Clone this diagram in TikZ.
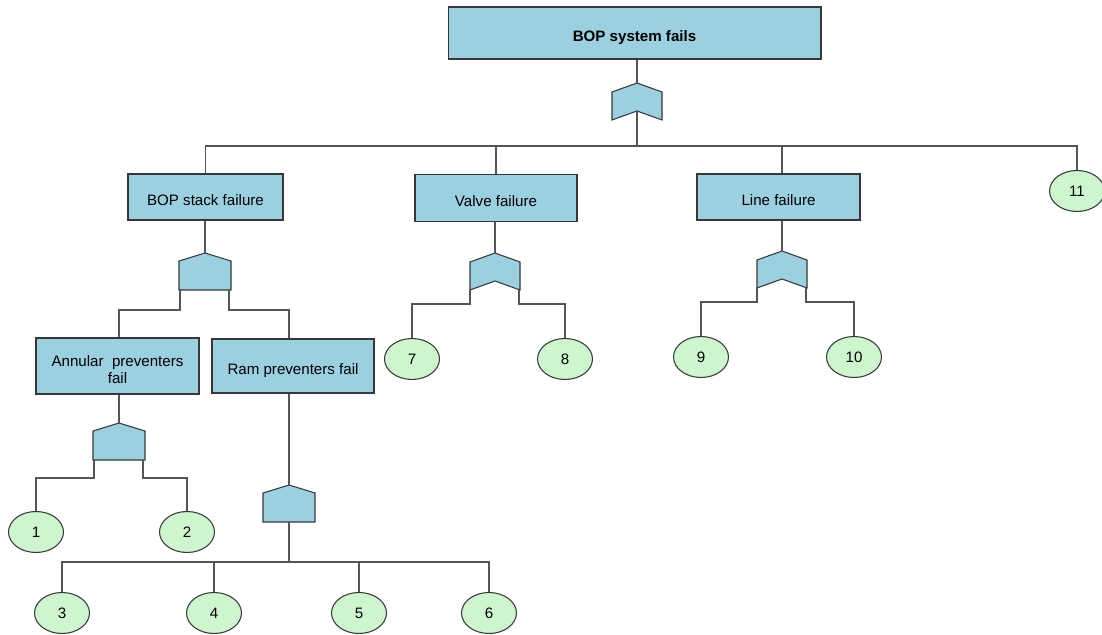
\documentclass[tikz,border=0pt]{standalone}
\usepackage{fontspec}
\setmainfont{Liberation Sans}
\usetikzlibrary{shapes.geometric}
\definecolor{boxblue}{RGB}{155,208,224}
\definecolor{leafgreen}{RGB}{206,246,206}
\definecolor{edgegray}{RGB}{55,55,55}
\definecolor{wiregray}{RGB}{85,85,85}
\begin{document}
\begin{tikzpicture}[x=0.02cm,y=-0.02cm,
  evbox/.style={draw=edgegray, fill=boxblue, line width=0.6pt, inner sep=0pt,
    align=center, font=\fontsize{8.6}{9.6}\selectfont, text height=9.8pt, text depth=0pt},
  leaf/.style={ellipse, draw=edgegray, fill=leafgreen, line width=0.6pt, inner sep=0pt,
    minimum width=1.1cm, minimum height=0.82cm, font=\fontsize{8.6}{10}\selectfont},
  wire/.style={draw=wiregray, line width=0.6pt},
  gatefill/.style={draw=edgegray, fill=boxblue, line width=0.6pt, line join=miter},
  orgate/.pic={
    \path[gatefill] (-25,9) -- (0,0) -- (25,9) -- (25,37) -- (0,28) -- (-25,37) -- cycle;
    \coordinate (-top) at (0,0);
    \coordinate (-n) at (0,28);
    \coordinate (-bl) at (-25,37);
    \coordinate (-br) at (24,37);
  },
  andgate/.pic={
    \path[gatefill] (-26,8) -- (0,0) -- (26,8) -- (26,37) -- (-26,37) -- cycle;
    \coordinate (-top) at (0,0);
    \coordinate (-b) at (0,37);
    \coordinate (-bl) at (-25,37);
    \coordinate (-br) at (24,37);
  }]
\useasboundingbox (0,0) rectangle (1102,635);

% events
\node[evbox, minimum width=7.46cm, minimum height=1.04cm, font=\fontsize{8.6}{9.6}\selectfont\bfseries]
  (top) at (634.5,33) {BOP system fails};
\node[evbox, minimum width=3.1cm, minimum height=0.92cm] (stack) at (205.5,197) {BOP stack failure};
\node[evbox, minimum width=3.24cm, minimum height=0.94cm] (valve) at (496,198) {Valve failure};
\node[evbox, minimum width=3.26cm, minimum height=0.92cm] (linebox) at (778.5,197) {Line failure};
\node[evbox, minimum width=3.26cm, minimum height=1.12cm, text height=, text depth=]
  (annular) at (117.5,366) {\rule{0pt}{10.5pt}Annular\ \ preventers\\fail};
\node[evbox, minimum width=3.24cm, minimum height=1.08cm] (ram) at (293,366) {Ram preventers fail};

% basic events
\node[leaf] (c1) at (36,532) {1};
\node[leaf] (c2) at (187,532) {2};
\node[leaf] (c3) at (62,613) {3};
\node[leaf] (c4) at (214,613) {4};
\node[leaf] (c5) at (359,613) {5};
\node[leaf] (c6) at (489,613) {6};
\node[leaf] (c7) at (412,359) {7};
\node[leaf] (c8) at (565,359) {8};
\node[leaf] (c9) at (701,357) {9};
\node[leaf] (c10) at (854,357) {10};
\node[leaf] (c11) at (1077,191) {11};

% gates
\pic (g0) at (637,83) {orgate};
\pic (g1) at (205,253) {andgate};
\pic (g2) at (495,253) {orgate};
\pic (g3) at (782,251) {orgate};
\pic (g4) at (119,423) {andgate};
\pic (g5) at (289,485) {andgate};

\coordinate (bus0) at (637,146);

% top level
\draw[wire] (top.south -| g0-top) -- (g0-top);
\draw[wire] (g0-n) -- (bus0);
\draw[wire] (stack.north) |- (bus0) -| (c11.north);
\draw[wire] (valve.north) -- (valve.north |- bus0);
\draw[wire] (linebox.north -| g3-top) -- (g3-top |- bus0);

% BOP stack
\draw[wire] (stack.south -| g1-top) -- (g1-top);
\draw[wire] (g1-bl) -- ++(0,20) -| (annular.north -| g4-top);
\draw[wire] (g1-br) -- ++(0,20) -| (ram.north -| g5-top);

% annular preventers
\draw[wire] (annular.south -| g4-top) -- (g4-top);
\draw[wire] (g4-bl) -- ++(0,18) -| (c1.north);
\draw[wire] (g4-br) -- ++(0,18) -| (c2.north);

% ram preventers
\draw[wire] (ram.south -| g5-top) -- (g5-top);
\draw[wire] (g5-b) -- ++(0,40) coordinate (bus5);
\draw[wire] (c3.north) |- (bus5) -| (c6.north);
\draw[wire] (c4.north) -- (c4.north |- bus5);
\draw[wire] (c5.north) -- (c5.north |- bus5);

% valve
\draw[wire] (valve.south -| g2-top) -- (g2-top);
\draw[wire] (g2-bl) -- ++(0,14) -| (c7.north);
\draw[wire] (g2-br) -- ++(0,14) -| (c8.north);

% line
\draw[wire] (linebox.south -| g3-top) -- (g3-top);
\draw[wire] (g3-bl) -- ++(0,14) -| (c9.north);
\draw[wire] (g3-br) -- ++(0,14) -| (c10.north);
\end{tikzpicture}
\end{document}
